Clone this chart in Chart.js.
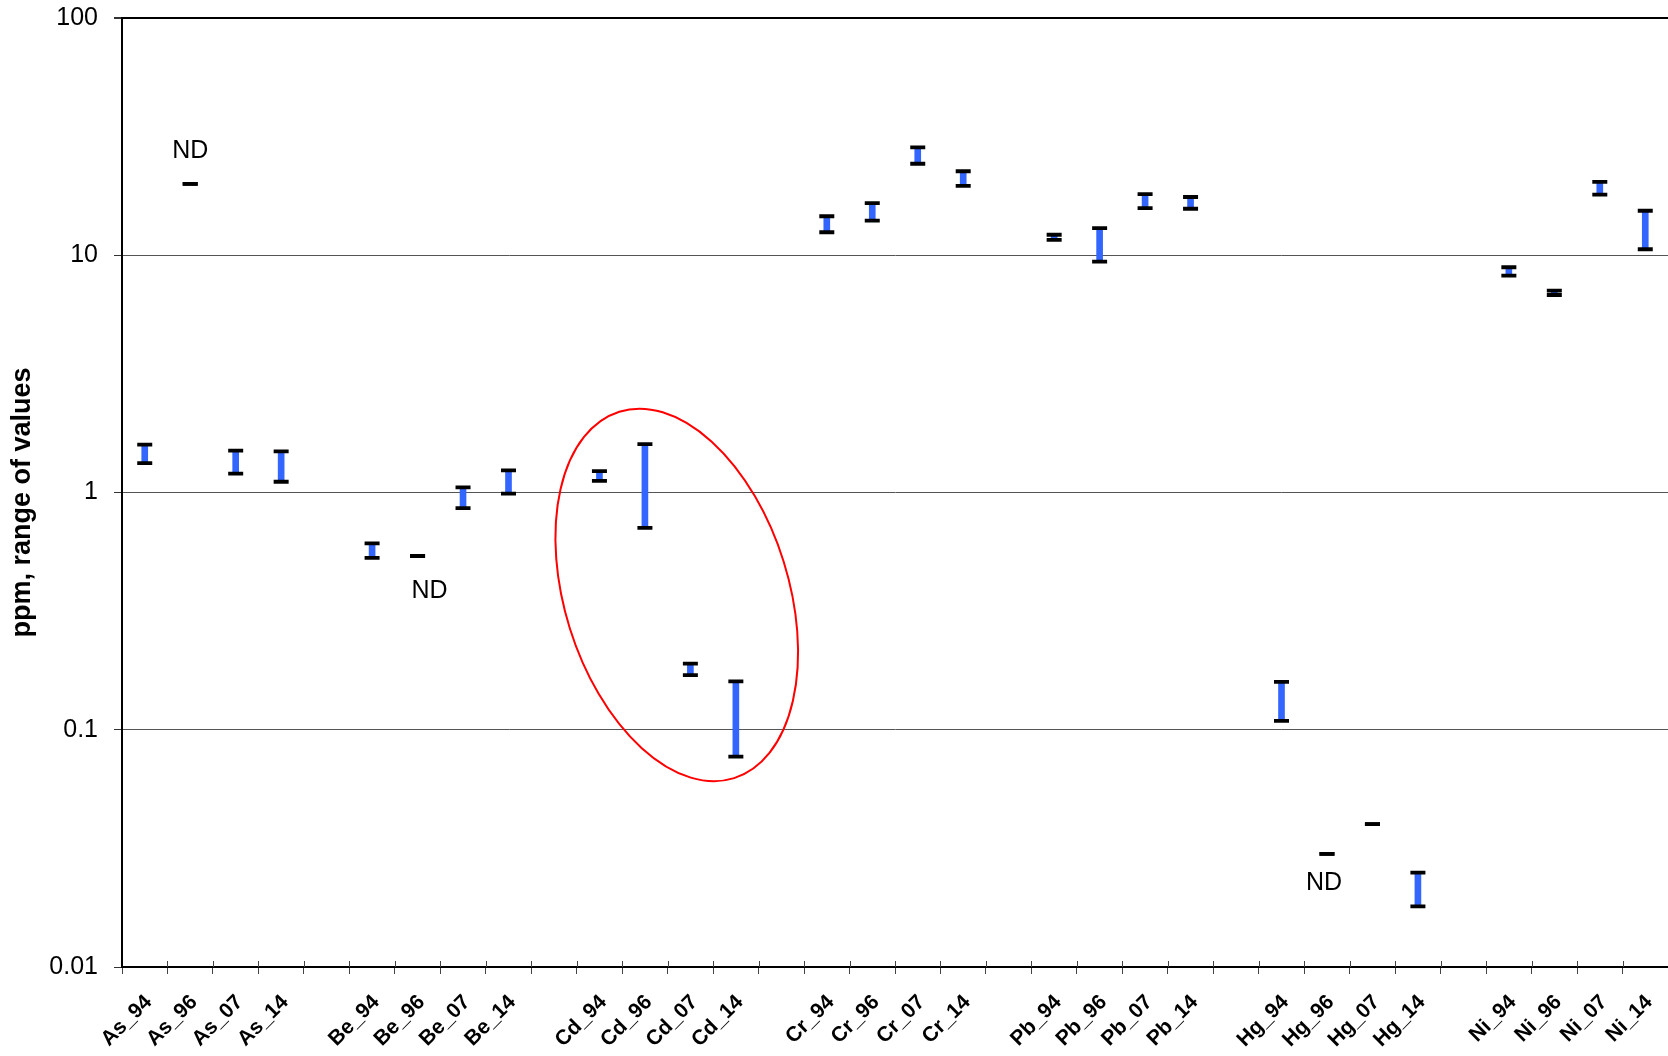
<!DOCTYPE html>
<html>
<head>
<meta charset="utf-8">
<script src="https://cdn.jsdelivr.net/npm/chart.js@4/dist/chart.umd.min.js"></script>
<style>
  html, body { margin: 0; padding: 0; background: #ffffff; width: 1668px; height: 1056px; overflow: hidden; }
  #wrap { width: 1668px; height: 1056px; position: relative; overflow: hidden; }
  #wrap canvas { display: block; }
</style>
</head>
<body>
<div id="wrap"><canvas id="chart"></canvas></div>
<script>
// Sample categories (element_year); empty strings separate the element groups
const categories = [
  'As_94', 'As_96', 'As_07', 'As_14', '',
  'Be_94', 'Be_96', 'Be_07', 'Be_14', '',
  'Cd_94', 'Cd_96', 'Cd_07', 'Cd_14', '',
  'Cr_94', 'Cr_96', 'Cr_07', 'Cr_14', '',
  'Pb_94', 'Pb_96', 'Pb_07', 'Pb_14', '',
  'Hg_94', 'Hg_96', 'Hg_07', 'Hg_14', '',
  'Ni_94', 'Ni_96', 'Ni_07', 'Ni_14'
];

// Lower end of the measured range, ppm
const lowValues = [
  1.33, 20, 1.20, 1.11, null,
  0.53, 0.54, 0.86, 0.99, null,
  1.12, 0.71, 0.17, 0.077, null,
  12.5, 14.0, 24.3, 19.6, null,
  11.6, 9.4, 15.8, 15.7, null,
  0.109, 0.03, 0.04, 0.018, null,
  8.2, 6.8, 18.0, 10.6
];

// Upper end of the measured range, ppm
const highValues = [
  1.59, 20, 1.50, 1.49, null,
  0.61, 0.54, 1.05, 1.24, null,
  1.23, 1.60, 0.19, 0.16, null,
  14.6, 16.6, 28.5, 22.6, null,
  12.2, 13.0, 18.1, 17.6, null,
  0.159, 0.03, 0.04, 0.025, null,
  8.9, 7.1, 20.4, 15.4
];

// Decade ticks of the log axis
const yTickValues = [0.01, 0.1, 1, 10, 100];

// Axis title
const yAxisTitle = 'ppm, range of values';

// "ND" notes beside the non-detect entries
const ndNotes = [
  { category: 'As_96', text: 'ND', xAdjust: 0, yAdjust: -33 },
  { category: 'Be_96', text: 'ND', xAdjust: 12, yAdjust: 35 },
  { category: 'Hg_96', text: 'ND', xAdjust: -3, yAdjust: 29 }
];

// Red ellipse around the cadmium group (centre in data units)
const cadmiumHighlight = { xIndex: 11.7, yValue: 0.37, rx: 192, ry: 112, angleDeg: 72.6 };

const FONT = '"Liberation Sans", Arial, Helvetica, sans-serif';
const BAR_BLUE = '#3366ff';

const rangeBars = categories.map((c, i) =>
  (lowValues[i] != null && highValues[i] > lowValues[i]) ? [lowValues[i], highValues[i]] : null);

const annotationPlugin = {
  id: 'rangeAnnotations',
  afterDraw(chart) {
    const { ctx, scales: { x, y }, chartArea } = chart;
    ctx.save();
    // tick marks crossing above the category axis
    ctx.strokeStyle = '#444';
    ctx.lineWidth = 1;
    for (let i = 1; i <= categories.length; i++) {
      const px = Math.round(x.getPixelForValue(i - 0.5)) + 0.5;
      ctx.beginPath();
      ctx.moveTo(px, chartArea.bottom - 6);
      ctx.lineTo(px, chartArea.bottom);
      ctx.stroke();
    }
    // ND notes
    ctx.fillStyle = '#000';
    ctx.font = '25px ' + FONT;
    ctx.textAlign = 'center';
    ctx.textBaseline = 'middle';
    ndNotes.forEach(n => {
      const idx = categories.indexOf(n.category);
      const px = x.getPixelForValue(idx) + n.xAdjust;
      const py = y.getPixelForValue(lowValues[idx]) + n.yAdjust;
      ctx.fillText(n.text, px, py);
    });
    // vertical axis title, set slightly below the axis midpoint
    ctx.save();
    ctx.font = 'bold 27px ' + FONT;
    ctx.translate(y.left + 23, (chartArea.top + chartArea.bottom) / 2 + 10);
    ctx.rotate(-Math.PI / 2);
    ctx.fillText(yAxisTitle, 0, 0);
    ctx.restore();
    // highlight ellipse
    const h = cadmiumHighlight;
    ctx.strokeStyle = '#ff0000';
    ctx.lineWidth = 2;
    ctx.beginPath();
    ctx.ellipse(x.getPixelForValue(h.xIndex), y.getPixelForValue(h.yValue),
      h.rx, h.ry, h.angleDeg * Math.PI / 180, 0, Math.PI * 2);
    ctx.stroke();
    ctx.restore();
  }
};

const capStyle = {
  type: 'line',
  showLine: false,
  pointStyle: 'line',
  pointRadius: 7.5,
  pointHoverRadius: 7.5,
  pointBorderWidth: 3.8,
  pointHoverBorderWidth: 3.8,
  pointBorderColor: '#000',
  pointBackgroundColor: '#000',
  borderColor: '#000'
};

new Chart(document.getElementById('chart'), {
  type: 'bar',
  data: {
    labels: categories,
    datasets: [
      Object.assign({ label: 'high', data: highValues, order: 0 }, capStyle),
      Object.assign({ label: 'low', data: lowValues, order: 1 }, capStyle),
      {
        type: 'bar',
        label: 'range',
        data: rangeBars,
        backgroundColor: BAR_BLUE,
        borderWidth: 0,
        barThickness: 6,
        order: 2
      }
    ]
  },
  options: {
    responsive: true,
    maintainAspectRatio: false,
    animation: false,
    layout: { autoPadding: false, padding: { top: 18, right: 0, bottom: 0, left: 0 } },
    plugins: {
      legend: { display: false },
      tooltip: { enabled: false }
    },
    scales: {
      x: {
        type: 'category',
        offset: true,
        afterFit(scale) {
          scale.height = 89;
          scale.paddingLeft = 0;
          scale.paddingRight = 0;
        },
        grid: {
          offset: true,
          drawOnChartArea: false,
          drawTicks: true,
          tickLength: 7,
          tickColor: '#444',
          tickWidth: 1
        },
        border: { display: true, color: '#000', width: 2 },
        ticks: {
          autoSkip: false,
          minRotation: 45,
          maxRotation: 45,
          padding: 16,
          labelOffset: 4,
          color: '#000',
          font: { family: FONT, size: 21, weight: 'bold' }
        }
      },
      y: {
        type: 'logarithmic',
        min: 0.01,
        max: 100,
        afterFit(scale) {
          scale.width = 122;
          scale.paddingTop = 0;
          scale.paddingBottom = 0;
        },
        afterBuildTicks(scale) { scale.ticks = yTickValues.map(v => ({ value: v })); },
        grid: {
          drawTicks: true,
          tickLength: 8,
          tickColor: '#333',
          color: ctx => (ctx.tick && ctx.tick.value === 100) ? '#000' : '#555',
          lineWidth: ctx => (ctx.tick && ctx.tick.value === 100) ? 2 : 1
        },
        border: { display: true, color: '#000', width: 2 },
        ticks: {
          padding: 16,
          color: '#000',
          font: { family: FONT, size: 25 },
          callback: v => String(v)
        },
        title: { display: false }
      }
    }
  },
  plugins: [annotationPlugin]
});
</script>
</body>
</html>
